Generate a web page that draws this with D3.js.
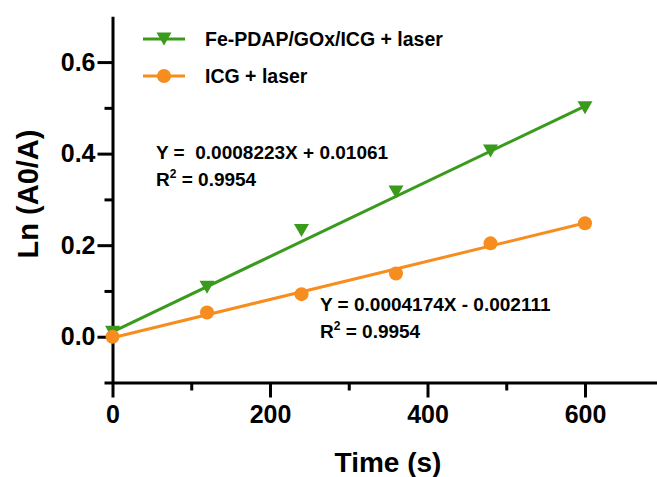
<!DOCTYPE html>
<html>
<head>
<meta charset="utf-8">
<script src="https://cdn.jsdelivr.net/npm/d3@7"></script>
<style>
  html, body { margin: 0; padding: 0; background: #fff; }
  svg { display: block; font-family: "Liberation Sans", Arial, sans-serif; font-weight: bold; }
</style>
</head>
<body>
<svg id="chart" width="657" height="477"></svg>
<script>
// ---- data ----
const times = [0, 120, 240, 360, 480, 600];
const seriesNames = ["Fe-PDAP/GOx/ICG + laser", "ICG + laser"];
const greenValues = [0.010, 0.108, 0.232, 0.316, 0.406, 0.500];
const orangeValues = [0.000, 0.053, 0.093, 0.138, 0.204, 0.248];
const fitSlopes = [0.0008223, 0.0004174];
const fitIntercepts = [0.01061, -0.002111];
const fitRange = [0, 600];
const eqLines1 = ["Y =  0.0008223X + 0.01061", "0.9954"];
const eqLines2 = ["Y = 0.0004174X - 0.002111", "0.9954"];
const xMajorTicks = [0, 200, 400, 600];
const xMinorTicks = [100, 300, 500];
const yMajorTicks = [0.0, 0.2, 0.4, 0.6];
const yMinorTicks = [-0.1, 0.1, 0.3, 0.5];
const xTitle = "Time (s)";
const yTitle = "Ln (A0/A)";

const GREEN = "#3a9a1c";
const ORANGE = "#f78c1f";

const svg = d3.select("#chart");
const x = d3.scaleLinear().domain([0, 700]).range([112.5, 663.75]);
const y = d3.scaleLinear().domain([-0.1, 0.7]).range([382.5, 16.3]);

// ---- axes ----
const axisW = 3;
function styleAxis(g) {
  g.selectAll("path.domain").attr("stroke", "#000").attr("stroke-width", axisW);
  g.selectAll(".tick line").attr("stroke", "#000").attr("stroke-width", axisW);
  g.selectAll(".tick text").attr("fill", "#000").style("font-size", "25px")
    .style("font-family", "'Liberation Sans', Arial, sans-serif").style("font-weight", "bold");
}
const y0 = y(-0.1);
const xAxisG = svg.append("g").attr("transform", `translate(0,${y0})`)
  .call(d3.axisBottom(x).tickValues(xMajorTicks).tickSize(15).tickSizeOuter(0).tickPadding(8).tickFormat(d3.format("d")));
styleAxis(xAxisG);
const xMinorG = svg.append("g").attr("transform", `translate(0,${y0})`)
  .call(d3.axisBottom(x).tickValues(xMinorTicks).tickSize(8).tickSizeOuter(0).tickFormat(""));
styleAxis(xMinorG);
xMinorG.select("path.domain").remove();

const yAxisG = svg.append("g").attr("transform", `translate(${x(0)},0)`)
  .call(d3.axisLeft(y).tickValues(yMajorTicks).tickSize(15).tickSizeOuter(0).tickPadding(2).tickFormat(d3.format(".1f")));
styleAxis(yAxisG);
const yMinorG = svg.append("g").attr("transform", `translate(${x(0)},0)`)
  .call(d3.axisLeft(y).tickValues(yMinorTicks).tickSize(8).tickSizeOuter(0).tickFormat(""));
styleAxis(yMinorG);
yMinorG.select("path.domain").remove();

// axis titles
svg.append("text").attr("x", 388).attr("y", 472).attr("text-anchor", "middle")
  .style("font-size", "28px").text(xTitle);
svg.append("text").attr("transform", "translate(38,194) rotate(-90)").attr("text-anchor", "middle")
  .style("font-size", "29px").text(yTitle);

// ---- fit lines ----
const lineGen = d3.line().x(d => x(d[0])).y(d => y(d[1]));
const colors = [GREEN, ORANGE];
fitSlopes.forEach((m, i) => {
  const pts = fitRange.map(t => [t, m * t + fitIntercepts[i]]);
  svg.append("path").datum(pts).attr("d", lineGen)
    .attr("fill", "none").attr("stroke", colors[i]).attr("stroke-width", 3);
});

// ---- markers ----
const triDown = (cx, cy, w, h) => `M${cx - w/2},${cy - h/2} L${cx + w/2},${cy - h/2} L${cx},${cy + h/2} Z`;
svg.append("g").selectAll("path").data(times.map((t, i) => [t, greenValues[i]])).join("path")
  .attr("d", d => triDown(x(d[0]), y(d[1]), 15, 13)).attr("fill", GREEN);
svg.append("g").selectAll("circle").data(times.map((t, i) => [t, orangeValues[i]])).join("circle")
  .attr("cx", d => x(d[0])).attr("cy", d => y(d[1])).attr("r", 7).attr("fill", ORANGE);

// ---- legend ----
const legendRows = [39, 76];
seriesNames.forEach((name, i) => {
  const ly = legendRows[i];
  svg.append("line").attr("x1", 143).attr("x2", 185).attr("y1", ly).attr("y2", ly)
    .attr("stroke", colors[i]).attr("stroke-width", 3);
  if (i === 0) svg.append("path").attr("d", triDown(164, ly, 15, 13)).attr("fill", GREEN);
  else svg.append("circle").attr("cx", 164).attr("cy", ly).attr("r", 7).attr("fill", ORANGE);
  svg.append("text").attr("x", 205).attr("y", ly + 7).style("font-size", "19.5px").text(name);
});

// ---- equations ----
function equation(xp, yp, lines) {
  svg.append("text").attr("x", xp).attr("y", yp).style("font-size", "19px")
    .style("white-space", "pre").attr("xml:space", "preserve").text(lines[0]);
  const t = svg.append("text").attr("x", xp).attr("y", yp + 27).style("font-size", "19px");
  t.append("tspan").text("R");
  t.append("tspan").attr("dy", -8).style("font-size", "12px").text("2");
  t.append("tspan").attr("dy", 8).text(" = " + lines[1]);
}
equation(156, 158.5, eqLines1);
equation(320, 311, eqLines2);
</script>
</body>
</html>
